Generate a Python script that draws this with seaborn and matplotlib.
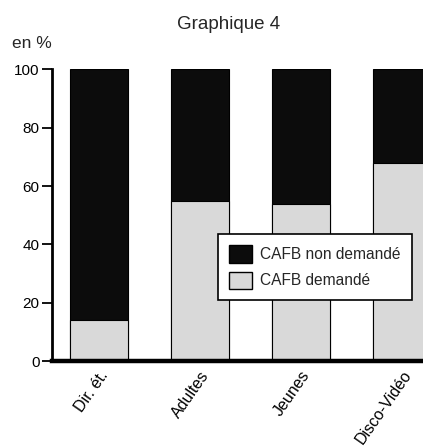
import matplotlib
matplotlib.use("Agg")
import matplotlib.pyplot as plt
import matplotlib.patches as mpatches
import seaborn as sns
import pandas as pd

categories = ["Dir. ét.", "Adultes", "Jeunes", "Disco-Vidéo"]
demande = [14, 55, 54, 68]
non_demande = [86, 45, 46, 32]

df = pd.DataFrame({"cat": categories, "demande": demande, "non_demande": non_demande})
df["total"] = df["demande"] + df["non_demande"]

sns.set_theme(style="white")
plt.rcParams["font.family"] = ["Liberation Sans", "DejaVu Sans"]

fig = plt.figure(figsize=(4.23, 4.47), dpi=100)
ax = fig.add_axes([0.123, 0.192, 0.877, 0.653])

black = "#0c0c0c"
gray = "#d9d9d9"

# stacked bars: total (black) first, then demandé (gray) on top of it
sns.barplot(data=df, x="cat", y="total", color=black, width=0.575,
            edgecolor="black", linewidth=0.8, saturation=1, ax=ax)
sns.barplot(data=df, x="cat", y="demande", color=gray, width=0.575,
            edgecolor="black", linewidth=0.8, saturation=1, ax=ax)

ax.set_xlim(-0.465, 3.21)
ax.set_ylim(0, 100)
ax.set_yticks([0, 20, 40, 60, 80, 100])
ax.set_xlabel("")
ax.set_ylabel("")

for s in ["top", "right"]:
    ax.spines[s].set_visible(False)
ax.spines["left"].set_linewidth(2)
ax.spines["left"].set_color("black")
ax.spines["bottom"].set_linewidth(3.2)
ax.spines["bottom"].set_color("black")

ax.tick_params(axis="y", direction="out", length=7, width=1.3, color="black",
               left=True, labelsize=11, pad=2, labelcolor="black")
ax.tick_params(axis="x", length=0, labelsize=11.5, pad=5, labelcolor="black")
for lab in ax.get_xticklabels():
    lab.set_rotation(55)
    lab.set_ha("right")
    lab.set_rotation_mode("anchor")

fig.text(0.54, 0.945, "Graphique 4", ha="center", va="center", fontsize=13.5)
fig.text(0.028, 0.902, "en %", ha="left", va="center", fontsize=12.5)

handles = [mpatches.Patch(facecolor=black, edgecolor="black", label="CAFB non demandé"),
           mpatches.Patch(facecolor=gray, edgecolor="black", label="CAFB demandé")]
leg = ax.legend(handles=handles, loc="lower left", bbox_to_anchor=(0.447, 0.209),
                borderaxespad=0, frameon=True, fancybox=False, framealpha=1,
                edgecolor="black", fontsize=11.2, handlelength=1.5, handleheight=1.35,
                borderpad=0.72, labelspacing=0.55, handletextpad=0.5)
leg.get_frame().set_linewidth(1.2)

fig.savefig("out.png", dpi=100)
